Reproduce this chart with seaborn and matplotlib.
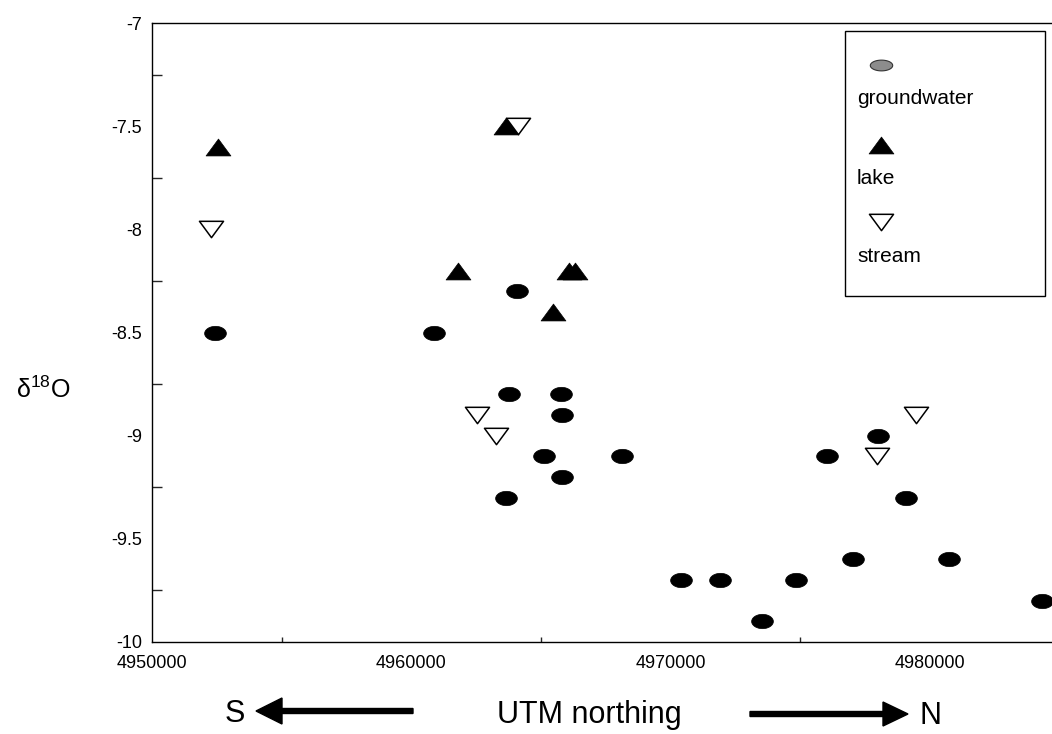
import numpy as np
import pandas as pd
import matplotlib
matplotlib.use("Agg")
import matplotlib.pyplot as plt
from matplotlib.path import Path
from matplotlib.patches import Rectangle, FancyArrow
from matplotlib.transforms import IdentityTransform
from matplotlib.ticker import FixedLocator, FuncFormatter, MultipleLocator
import seaborn as sns

# --- data: UTM northing (m) and delta-18O (permil) by water type ---
gw_northing = [4952430, 4960875, 4964080, 4963770, 4965770, 4965810, 4965120,
               4965810, 4963650, 4968130, 4970400, 4971900, 4973520, 4974840,
               4976030, 4977030, 4978000, 4979080, 4980740, 4984320]
gw_d18o = [-8.5, -8.5, -8.3, -8.8, -8.8, -8.9, -9.1, -9.2, -9.3, -9.1,
           -9.7, -9.7, -9.9, -9.7, -9.1, -9.6, -9.0, -9.3, -9.6, -9.8]

lake_northing = [4952550, 4963650, 4961800, 4966080, 4966310, 4965460]
lake_d18o = [-7.6, -7.5, -8.2, -8.2, -8.2, -8.4]

stream_northing = [4952280, 4964110, 4962530, 4963270, 4977960, 4979460]
stream_d18o = [-8.0, -7.5, -8.9, -9.0, -9.1, -8.9]

x_major = [4950000, 4960000, 4970000, 4980000]
y_major = [-7, -7.5, -8, -8.5, -9, -9.5, -10]
legend_labels = ["groundwater", "lake", "stream"]

sns.set_style("white")
plt.rcParams["font.family"] = ["Liberation Sans", "DejaVu Sans"]
plt.rcParams["axes.unicode_minus"] = False
plt.rcParams["text.color"] = "black"
plt.rcParams["axes.labelcolor"] = "black"
plt.rcParams["mathtext.fontset"] = "custom"
plt.rcParams["mathtext.rm"] = "Liberation Sans"

# flattened marker shapes
t = np.linspace(0, 2 * np.pi, 60)
ellipse = Path(np.column_stack([np.cos(t), 0.66 * np.sin(t)]), closed=True)
tri_up = Path([(-1, -0.68), (1, -0.68), (0, 0.68), (-1, -0.68)], closed=True)
tri_down = Path([(-1, 0.68), (1, 0.68), (0, -0.68), (-1, 0.68)], closed=True)
ellipse_flat = Path(np.column_stack([np.cos(t), 0.48 * np.sin(t)]), closed=True)

W, H = 1052, 734
fig = plt.figure(figsize=(W / 100, H / 100), dpi=100)
ax = fig.add_axes([152 / W, 1 - 642 / H, 900 / W, 619 / H])

gw = pd.DataFrame({"northing": gw_northing, "d18o": gw_d18o})
lk = pd.DataFrame({"northing": lake_northing, "d18o": lake_d18o})
st = pd.DataFrame({"northing": stream_northing, "d18o": stream_d18o})

sns.scatterplot(data=gw, x="northing", y="d18o", ax=ax, marker=ellipse,
                s=245, color="black", edgecolor="black", linewidth=0.5, zorder=3)
sns.scatterplot(data=lk, x="northing", y="d18o", ax=ax, marker=tri_up,
                s=320, color="black", edgecolor="black", linewidth=0.5, zorder=3)
sns.scatterplot(data=st, x="northing", y="d18o", ax=ax, marker=tri_down,
                s=300, facecolor="white", edgecolor="black", linewidth=1.1, zorder=4)

ax.set_xlim(4950000, 4984708)
ax.set_ylim(-10, -7)

ax.xaxis.set_major_locator(FixedLocator(x_major))
ax.xaxis.set_minor_locator(MultipleLocator(5000))
ax.xaxis.set_major_formatter(FuncFormatter(lambda v, p: f"{int(round(v))}"))
ax.yaxis.set_major_locator(FixedLocator(y_major))
ax.yaxis.set_minor_locator(MultipleLocator(0.25))
ax.yaxis.set_major_formatter(FuncFormatter(lambda v, p: f"{v:g}"))

ax.tick_params(axis="y", which="major", direction="in", length=9.5, width=1,
               pad=7, labelsize=13, colors="black")
ax.tick_params(axis="y", which="minor", direction="in", length=7, width=1, left=True)
ax.tick_params(axis="x", which="major", direction="in", length=6, width=1,
               pad=9, labelsize=13, colors="black")
ax.tick_params(axis="x", which="minor", direction="in", length=3.5, width=1, bottom=True)

for side in ("left", "bottom", "top"):
    ax.spines[side].set_color("black")
    ax.spines[side].set_linewidth(1.0)
ax.spines["right"].set_visible(False)

ax.set_xlabel("")
ax.set_ylabel("δ$^{\\mathregular{18}}$O", rotation=0, fontsize=18,
              ha="center", va="center")
ax.yaxis.set_label_coords((43 - 152) / 900, (642 - 390) / 619)

# legend box with markers placed above their labels
def axp(px, py):
    return (px - 152) / 900, (642 - py) / 619

x0, y0 = axp(845, 296)
x1, y1 = axp(1045, 31)
ax.add_patch(Rectangle((x0, y0), x1 - x0, y1 - y0, transform=ax.transAxes,
                       facecolor="white", edgecolor="black", linewidth=1.0,
                       zorder=5, clip_on=False))
leg_style = [
    dict(marker=ellipse_flat, s=260, facecolor="#8c8c8c", edgecolor="#333333", linewidth=0.8),
    dict(marker=tri_up, s=320, facecolor="black", edgecolor="black", linewidth=0.5),
    dict(marker=tri_down, s=300, facecolor="white", edgecolor="black", linewidth=1.1),
]
marker_y = [65, 145, 222]
text_y = [98, 178, 257]
for lab, sty, my, ty in zip(legend_labels, leg_style, marker_y, text_y):
    mx, myy = axp(881, my)
    ax.scatter([mx], [myy], transform=ax.transAxes, zorder=6, clip_on=False, **sty)
    tx, tyy = axp(857, ty)
    ax.text(tx, tyy, lab, transform=ax.transAxes, fontsize=15, ha="left",
            va="center", zorder=6)

# direction arrows and axis title below the plot
fig.text(589 / W, 1 - 715 / H, "UTM northing", fontsize=22, ha="center", va="center")
fig.text(235 / W, 1 - 714 / H, "S", fontsize=22, ha="center", va="center")
fig.text(930 / W, 1 - 716 / H, "N", fontsize=22, ha="center", va="center")
fig.add_artist(FancyArrow(413, H - 711, -157, 0, width=5, head_width=26,
                          head_length=26, length_includes_head=True,
                          color="black", transform=IdentityTransform()))
fig.add_artist(FancyArrow(750, H - 714, 158, 0, width=5, head_width=24,
                          head_length=25, length_includes_head=True,
                          color="black", transform=IdentityTransform()))

fig.savefig("out.png", dpi=100, facecolor="white")
